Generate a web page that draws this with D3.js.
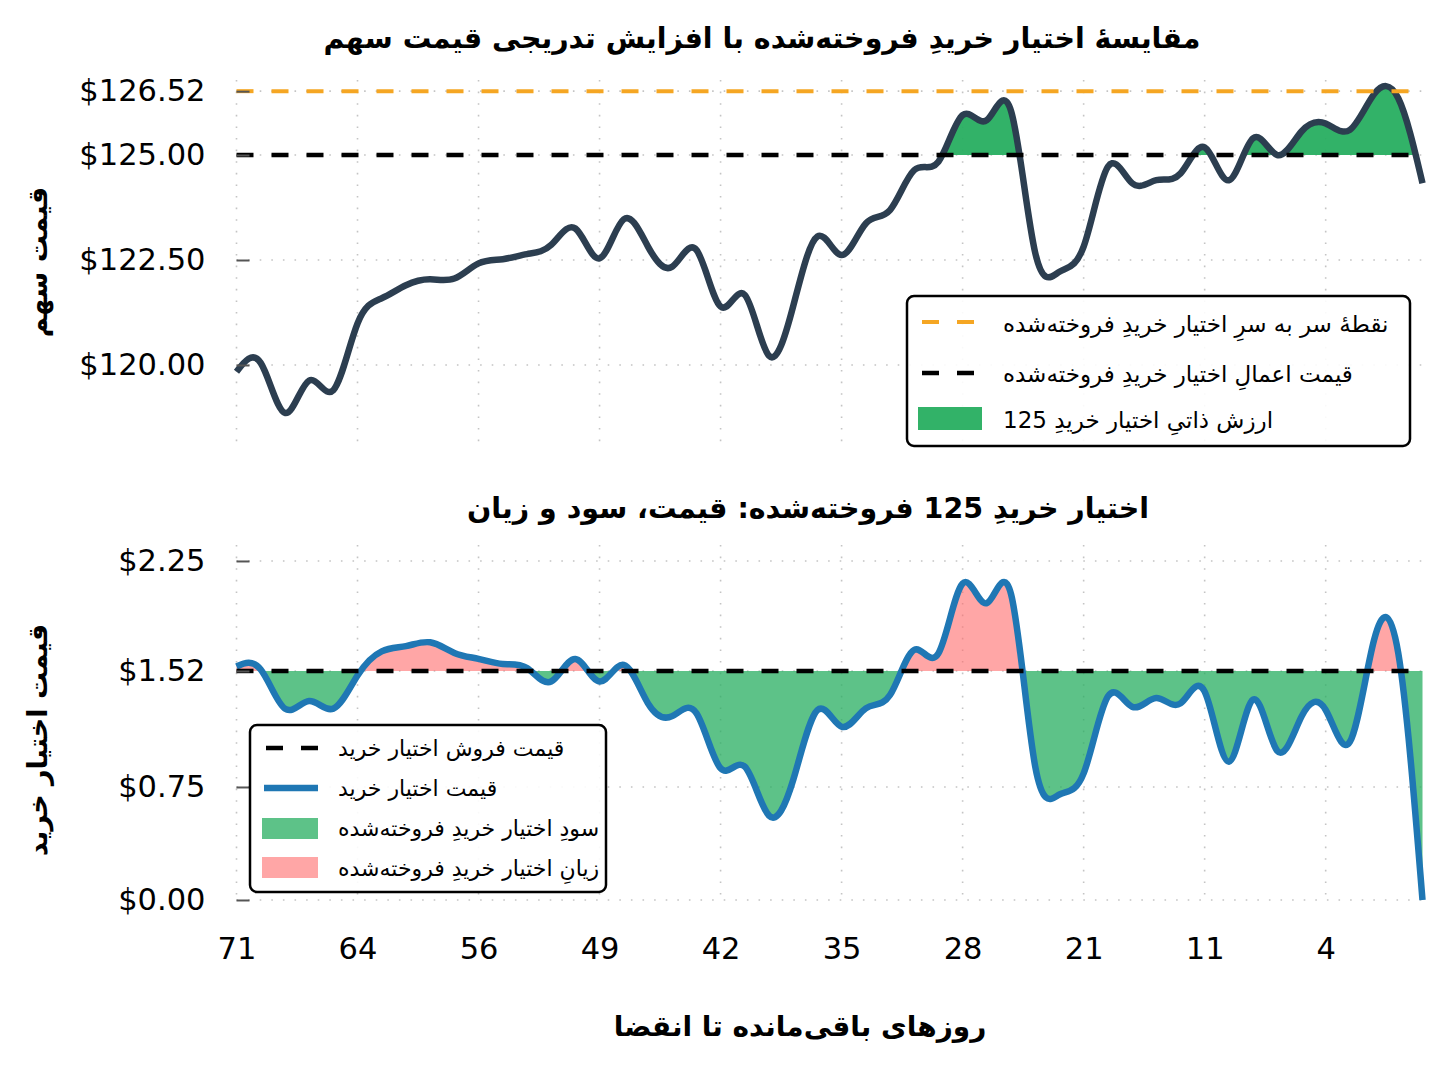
<!DOCTYPE html>
<html><head><meta charset="utf-8">
<script src="https://cdn.jsdelivr.net/npm/d3@7"></script>
<style>body{margin:0;background:#fff} svg{display:block}</style>
</head><body>
<svg id="c" width="1448" height="1086"></svg>
<script>
// ---- data ----
const dayLabels = [71, 64, 56, 49, 42, 35, 28, 21, 11, 4];
const tickIndex = [0, 5, 10, 15, 20, 25, 30, 35, 40, 45];
const stockPrice = [119.84, 120.05, 118.86, 119.63, 119.40, 120.99, 121.59, 121.90, 122.04, 122.06,
  122.42, 122.52, 122.64, 122.86, 123.25, 122.54, 123.47, 122.82, 122.34, 122.74,
  121.39, 121.67, 120.22, 121.40, 123.06, 122.62, 123.37, 123.69, 124.64, 124.84,
  125.95, 125.83, 126.05, 122.67, 122.22, 122.82, 124.72, 124.33, 124.40, 124.56,
  125.18, 124.40, 125.40, 125.00, 125.56, 125.75, 125.60, 126.45, 126.35, 124.33];
const callPrice = [1.55, 1.53, 1.27, 1.32, 1.27, 1.49, 1.65, 1.685, 1.71, 1.64,
  1.60, 1.566, 1.54, 1.45, 1.60, 1.45, 1.56, 1.305, 1.22, 1.24,
  0.874, 0.885, 0.56, 0.796, 1.26, 1.15, 1.272, 1.36, 1.66, 1.637,
  2.10, 1.97, 2.03, 0.885, 0.70, 0.84, 1.35, 1.283, 1.34, 1.305,
  1.383, 0.918, 1.33, 0.99, 1.217, 1.261, 1.05, 1.726, 1.637, 0.0];
const strike = 125;
const breakeven = 126.52;
const premium = 1.52;
const stockTicks = [120, 122.5, 125, 126.52];
const callTicks = [0, 0.75, 1.52, 2.25];

const txt = {
  title1: "مقایسهٔ اختیار خریدِ فروخته‌شده با افزایش تدریجی قیمت سهم",
  title2: "اختیار خریدِ 125 فروخته‌شده: قیمت، سود و زیان",
  yLab1: "قیمت سهم",
  yLab2: "قیمت اختیار خرید",
  xLab: "روزهای باقی‌مانده تا انقضا",
  leg1: ["نقطهٔ سر به سرِ اختیار خریدِ فروخته‌شده", "قیمت اعمالِ اختیار خریدِ فروخته‌شده", "ارزش ذاتیِ اختیار خریدِ 125"],
  leg2: ["قیمت فروش اختیار خرید", "قیمت اختیار خرید", "سودِ اختیار خریدِ فروخته‌شده", "زیانِ اختیار خریدِ فروخته‌شده"]
};

// ---- setup ----
const svg = d3.select("#c");
const FONT = "'DejaVu Sans', sans-serif";
const L = 236.5, R = 1422.5;
const x = d3.scaleLinear().domain([0, stockPrice.length - 1]).range([L, R]);
const top1 = 80, bot1 = 450, top2 = 545, bot2 = 903;
const y1 = d3.scaleLinear().domain([117.976, 126.786]).range([bot1, top1]);
const y2 = d3.scaleLinear().domain([-0.02, 2.356]).range([bot2, top2]);
const idx = d3.range(stockPrice.length);
const curve = d3.curveNatural;

const defs = svg.append("defs");
function clip(id, y0, y1v) {
  defs.append("clipPath").attr("id", id).append("rect")
    .attr("x", 0).attr("y", y0).attr("width", 1448).attr("height", y1v - y0);
}
clip("aboveStrike", 0, y1(strike));
clip("belowPrem", y2(premium), 1086);
clip("abovePrem", 0, y2(premium));

function grid(g, yScale, ticks, yTop, yBot) {
  const gs = g.append("g").attr("stroke", "#c4c4c4").attr("stroke-width", 1.6)
    .attr("stroke-dasharray", "1.6,10").attr("fill", "none");
  tickIndex.forEach(t => gs.append("line").attr("x1", x(t)).attr("x2", x(t)).attr("y1", yTop).attr("y2", yBot));
  ticks.forEach(t => gs.append("line").attr("x1", L).attr("x2", R).attr("y1", yScale(t)).attr("y2", yScale(t)));
}

// ---- top panel ----
const g1 = svg.append("g");
grid(g1, y1, stockTicks, top1, bot1);

const area1 = d3.area().x(i => x(i)).y0(y1(strike)).y1(i => y1(stockPrice[i])).curve(curve);
g1.append("path").datum(idx).attr("d", area1).attr("fill", "#27ae60").attr("fill-opacity", 0.95)
  .attr("clip-path", "url(#aboveStrike)");

const line1 = d3.line().x(i => x(i)).y(i => y1(stockPrice[i])).curve(curve);
g1.append("path").datum(idx).attr("d", line1).attr("fill", "none").attr("stroke", "#2c3e50")
  .attr("stroke-width", 6.5).attr("stroke-linejoin", "round").attr("stroke-linecap", "butt");

g1.append("line").attr("x1", L).attr("x2", R).attr("y1", y1(breakeven)).attr("y2", y1(breakeven))
  .attr("stroke", "#f5a623").attr("stroke-width", 4).attr("stroke-dasharray", "17,18");
g1.append("line").attr("x1", L).attr("x2", R).attr("y1", y1(strike)).attr("y2", y1(strike))
  .attr("stroke", "#000").attr("stroke-width", 4.5).attr("stroke-dasharray", "17,18");

const ax1 = g1.append("g").attr("transform", `translate(${L},0)`)
  .call(d3.axisLeft(y1).tickValues(stockTicks).tickFormat(d => "$" + d.toFixed(2)).tickSizeInner(-13).tickSizeOuter(0).tickPadding(31));
ax1.select(".domain").remove();
ax1.selectAll(".tick line").attr("stroke", "#555").attr("stroke-width", 2);
ax1.selectAll(".tick text").attr("font-family", FONT).attr("font-size", 30.5).attr("fill", "#000");

// ---- bottom panel ----
const g2 = svg.append("g");
grid(g2, y2, callTicks, top2, bot2);

const area2 = d3.area().x(i => x(i)).y0(y2(premium)).y1(i => y2(callPrice[i])).curve(curve);
g2.append("path").datum(idx).attr("d", area2).attr("fill", "#27ae60").attr("fill-opacity", 0.75)
  .attr("clip-path", "url(#belowPrem)");
g2.append("path").datum(idx).attr("d", area2).attr("fill", "#ff6b6b").attr("fill-opacity", 0.6)
  .attr("clip-path", "url(#abovePrem)");

const line2 = d3.line().x(i => x(i)).y(i => y2(callPrice[i])).curve(curve);
g2.append("path").datum(idx).attr("d", line2).attr("fill", "none").attr("stroke", "#1f77b4")
  .attr("stroke-width", 6.5).attr("stroke-linejoin", "round");

g2.append("line").attr("x1", L).attr("x2", R).attr("y1", y2(premium)).attr("y2", y2(premium))
  .attr("stroke", "#000").attr("stroke-width", 4.5).attr("stroke-dasharray", "17,18");

const ax2 = g2.append("g").attr("transform", `translate(${L},0)`)
  .call(d3.axisLeft(y2).tickValues(callTicks).tickFormat(d => "$" + d.toFixed(2)).tickSizeInner(-13).tickSizeOuter(0).tickPadding(31));
ax2.select(".domain").remove();
ax2.selectAll(".tick line").attr("stroke", "#555").attr("stroke-width", 2);
ax2.selectAll(".tick text").attr("font-family", FONT).attr("font-size", 30.5).attr("fill", "#000");

const axX = g2.append("g").attr("transform", `translate(0,${bot2})`)
  .call(d3.axisBottom(x).tickValues(tickIndex).tickFormat((d, i) => dayLabels[i]).tickSize(0).tickPadding(34));
axX.select(".domain").remove();
axX.selectAll(".tick text").attr("font-family", FONT).attr("font-size", 30.5).attr("fill", "#000");

// ---- titles & labels ----
function label(t, xx, yy, size, rot) {
  const el = svg.append("text").text(t).attr("font-family", FONT).attr("font-weight", "bold")
    .attr("font-size", size).attr("text-anchor", "middle").attr("direction", "rtl").attr("fill", "#000");
  if (rot) el.attr("transform", `translate(${xx},${yy}) rotate(-90)`);
  else el.attr("x", xx).attr("y", yy);
}
label(txt.title1, 762, 48, 28.5);
label(txt.title2, 808, 518, 28.5);
label(txt.xLab, 800, 1036, 28);
label(txt.yLab1, 47, 262, 27, true);
label(txt.yLab2, 47, 740, 27, true);

// ---- legends ----
function legendBox(xx, yy, w, h) {
  svg.append("rect").attr("x", xx).attr("y", yy).attr("width", w).attr("height", h).attr("rx", 7)
    .attr("fill", "#fff").attr("fill-opacity", 0.9).attr("stroke", "#000").attr("stroke-width", 2.5);
}
function legText(t, xx, yy, size) {
  svg.append("text").text(t).attr("x", xx).attr("y", yy).attr("font-family", FONT)
    .attr("font-size", size).attr("fill", "#000");
}
legendBox(907, 296, 503, 150);
svg.append("line").attr("x1", 922).attr("x2", 980).attr("y1", 322).attr("y2", 322)
  .attr("stroke", "#f5a623").attr("stroke-width", 4).attr("stroke-dasharray", "17,18");
svg.append("line").attr("x1", 922).attr("x2", 980).attr("y1", 373).attr("y2", 373)
  .attr("stroke", "#000").attr("stroke-width", 4.5).attr("stroke-dasharray", "17,18");
svg.append("rect").attr("x", 918).attr("y", 407).attr("width", 64).attr("height", 23)
  .attr("fill", "#27ae60").attr("fill-opacity", 0.95);
legText(txt.leg1[0], 1003, 332, 23);
legText(txt.leg1[1], 1003, 382, 23);
legText(txt.leg1[2], 1003, 428, 23);

legendBox(250, 725, 356, 167);
svg.append("line").attr("x1", 266).attr("x2", 318).attr("y1", 748).attr("y2", 748)
  .attr("stroke", "#000").attr("stroke-width", 4.5).attr("stroke-dasharray", "17,18");
svg.append("line").attr("x1", 264).attr("x2", 318).attr("y1", 788).attr("y2", 788)
  .attr("stroke", "#1f77b4").attr("stroke-width", 6.5);
svg.append("rect").attr("x", 262).attr("y", 818).attr("width", 56).attr("height", 21)
  .attr("fill", "#27ae60").attr("fill-opacity", 0.75);
svg.append("rect").attr("x", 262).attr("y", 857).attr("width", 56).attr("height", 21)
  .attr("fill", "#ff6b6b").attr("fill-opacity", 0.6);
legText(txt.leg2[0], 338, 756, 22);
legText(txt.leg2[1], 338, 796, 22);
legText(txt.leg2[2], 338, 836, 22);
legText(txt.leg2[3], 338, 876, 22);
</script>
</body></html>
